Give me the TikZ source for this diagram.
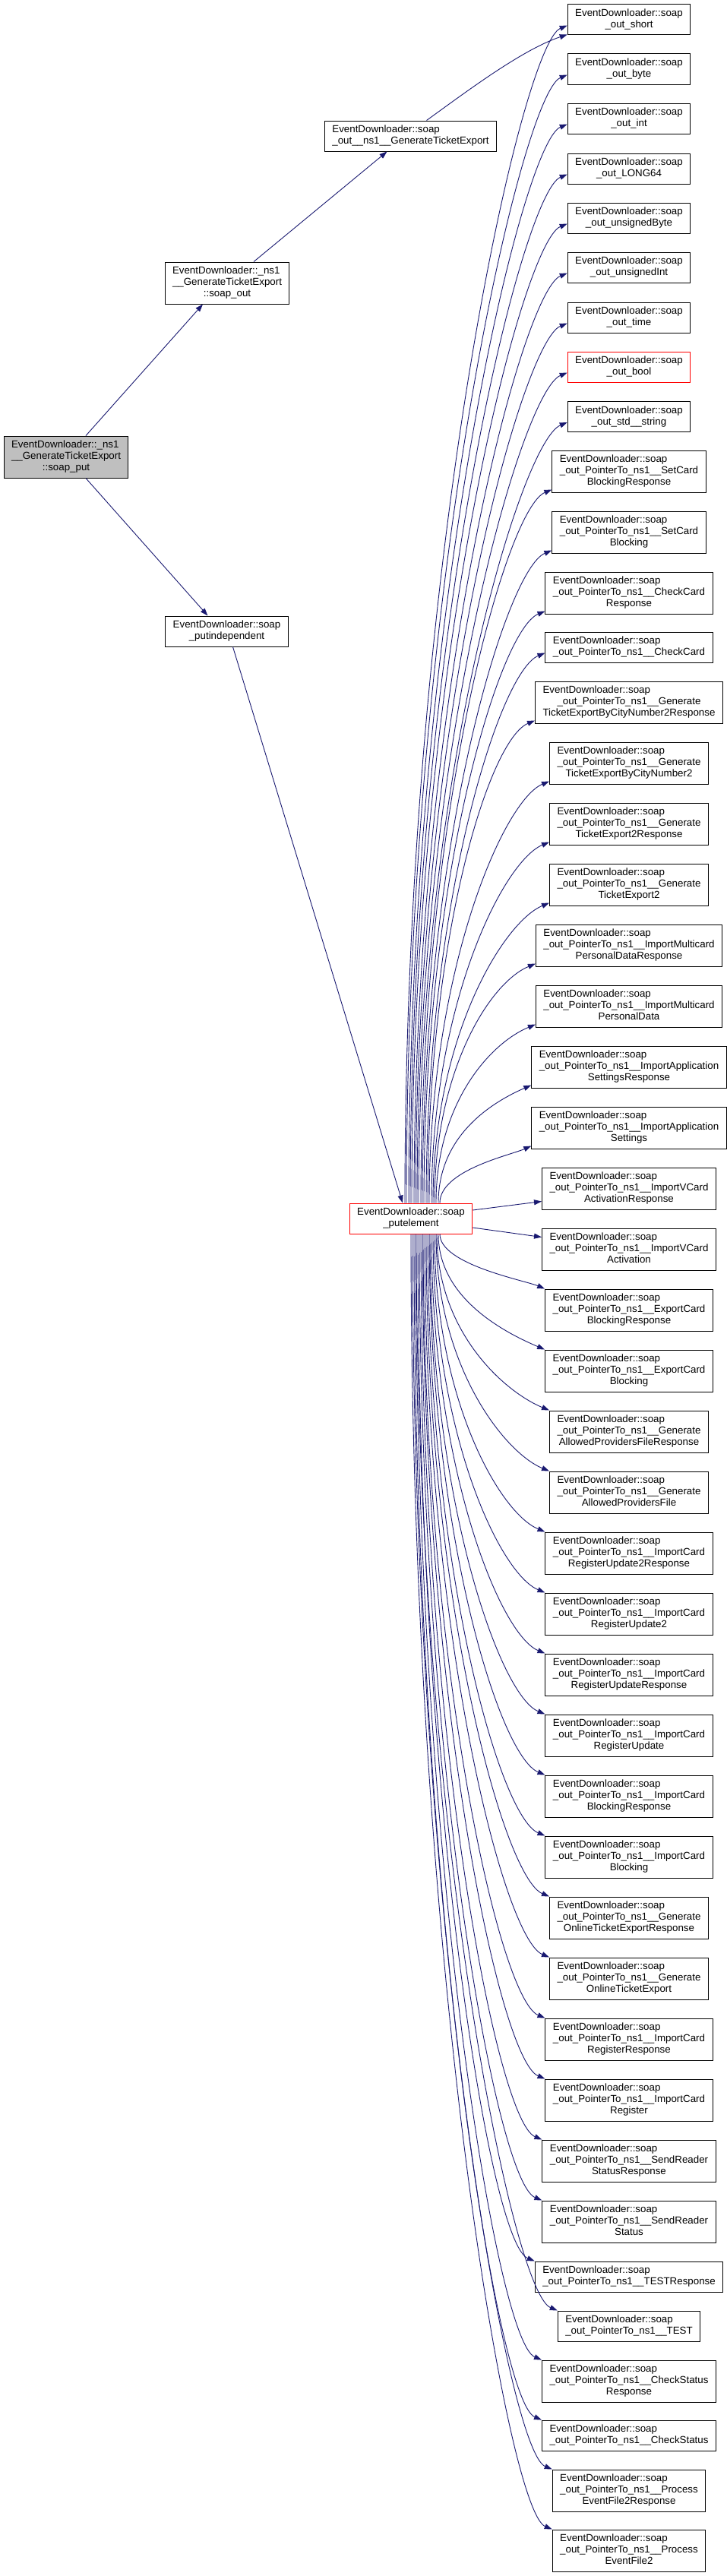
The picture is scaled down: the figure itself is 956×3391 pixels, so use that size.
\documentclass[tikz,border=0pt]{standalone}
\usepackage{fontspec}
\setmainfont{Liberation Sans}
\usetikzlibrary{arrows.meta}
\tikzset{
every picture/.style={
line width=1pt
}}
\definecolor{edgeblue}{HTML}{191970}
\definecolor{rootgray}{HTML}{BFBFBF}
% first line flush left, the rest centred
\newcommand{\fnlabel}[2]{\begin{tabular}{@{}c@{}}\multicolumn{1}{@{}l@{}}{#1}\\#2\end{tabular}}
\newcommand{\soapfn}[1]{\fnlabel{EventDownloader::soap}{#1}}

\begin{document}
\begin{tikzpicture}[x=1pt, y=1pt, >={Triangle[length=10pt,width=7pt]},
block/.style = {rectangle, draw=black, fill=white, inner xsep=10pt, inner ysep=5pt, font=\fontsize{13.33}{15}\selectfont},
redblock/.style = {block, draw=red},
rootblock/.style = {block, fill=rootgray},
call/.style = {->, draw=edgeblue, line width=0.9pt}]

\useasboundingbox (0,0) rectangle (956,-3391);

% callers
\node[rootblock] (put) at (87,-601.5) {\fnlabel{EventDownloader::\_ns1}{\_\_GenerateTicketExport\\::soap\_put}};
\node[block] (gteout) at (299,-372.5) {\fnlabel{EventDownloader::\_ns1}{\_\_GenerateTicketExport\\::soap\_out}};
\node[block] (putind) at (298.5,-831) {\soapfn{\_putindependent}};
\node[block] (outgte) at (540.5,-179) {\soapfn{\_out\_\_ns1\_\_GenerateTicketExport}};
\node[redblock] (pe) at (541,-1604) {\soapfn{\_putelement}};

% right column
\node[block] (short) at (828,-26) {\soapfn{\_out\_short}};
\node[block] (byte) at (828,-91) {\soapfn{\_out\_byte}};
\node[block] (int) at (828,-156) {\soapfn{\_out\_int}};
\node[block] (long64) at (828,-222) {\soapfn{\_out\_LONG64}};
\node[block] (ubyte) at (828,-287) {\soapfn{\_out\_unsignedByte}};
\node[block] (uint) at (828,-352) {\soapfn{\_out\_unsignedInt}};
\node[block] (time) at (828,-418) {\soapfn{\_out\_time}};
\node[redblock] (bool) at (828,-483) {\soapfn{\_out\_bool}};
\node[block] (string) at (828,-548.5) {\soapfn{\_out\_std\_\_string}};
\node[block] (scbresp) at (828,-620.5) {\soapfn{\_out\_PointerTo\_ns1\_\_SetCard\\BlockingResponse}};
\node[block] (scb) at (828,-700.5) {\soapfn{\_out\_PointerTo\_ns1\_\_SetCard\\Blocking}};
\node[block] (ccresp) at (828,-780.5) {\soapfn{\_out\_PointerTo\_ns1\_\_CheckCard\\Response}};
\node[block] (cc) at (828,-852) {\soapfn{\_out\_PointerTo\_ns1\_\_CheckCard}};
\node[block] (gtecnresp) at (828,-924.5) {\soapfn{\_out\_PointerTo\_ns1\_\_Generate\\TicketExportByCityNumber2Response}};
\node[block] (gtecn) at (828,-1004.5) {\soapfn{\_out\_PointerTo\_ns1\_\_Generate\\TicketExportByCityNumber2}};
\node[block] (gte2resp) at (828,-1084.5) {\soapfn{\_out\_PointerTo\_ns1\_\_Generate\\TicketExport2Response}};
\node[block] (gte2) at (828,-1164.5) {\soapfn{\_out\_PointerTo\_ns1\_\_Generate\\TicketExport2}};
\node[block] (impdresp) at (828,-1244.5) {\soapfn{\_out\_PointerTo\_ns1\_\_ImportMulticard\\PersonalDataResponse}};
\node[block] (impd) at (828,-1324.5) {\soapfn{\_out\_PointerTo\_ns1\_\_ImportMulticard\\PersonalData}};
\node[block] (iasresp) at (828,-1404.5) {\soapfn{\_out\_PointerTo\_ns1\_\_ImportApplication\\SettingsResponse}};
\node[block] (ias) at (828,-1484.5) {\soapfn{\_out\_PointerTo\_ns1\_\_ImportApplication\\Settings}};
\node[block] (ivcaresp) at (828,-1564.5) {\soapfn{\_out\_PointerTo\_ns1\_\_ImportVCard\\ActivationResponse}};
\node[block] (ivca) at (828,-1644.5) {\soapfn{\_out\_PointerTo\_ns1\_\_ImportVCard\\Activation}};
\node[block] (ecbresp) at (828,-1724.5) {\soapfn{\_out\_PointerTo\_ns1\_\_ExportCard\\BlockingResponse}};
\node[block] (ecb) at (828,-1804.5) {\soapfn{\_out\_PointerTo\_ns1\_\_ExportCard\\Blocking}};
\node[block] (gapfresp) at (828,-1884.5) {\soapfn{\_out\_PointerTo\_ns1\_\_Generate\\AllowedProvidersFileResponse}};
\node[block] (gapf) at (828,-1964.5) {\soapfn{\_out\_PointerTo\_ns1\_\_Generate\\AllowedProvidersFile}};
\node[block] (icru2resp) at (828,-2044.5) {\soapfn{\_out\_PointerTo\_ns1\_\_ImportCard\\RegisterUpdate2Response}};
\node[block] (icru2) at (828,-2124.5) {\soapfn{\_out\_PointerTo\_ns1\_\_ImportCard\\RegisterUpdate2}};
\node[block] (icruresp) at (828,-2204.5) {\soapfn{\_out\_PointerTo\_ns1\_\_ImportCard\\RegisterUpdateResponse}};
\node[block] (icru) at (828,-2284.5) {\soapfn{\_out\_PointerTo\_ns1\_\_ImportCard\\RegisterUpdate}};
\node[block] (icbresp) at (828,-2364.5) {\soapfn{\_out\_PointerTo\_ns1\_\_ImportCard\\BlockingResponse}};
\node[block] (icb) at (828,-2444.5) {\soapfn{\_out\_PointerTo\_ns1\_\_ImportCard\\Blocking}};
\node[block] (goteresp) at (828,-2524.5) {\soapfn{\_out\_PointerTo\_ns1\_\_Generate\\OnlineTicketExportResponse}};
\node[block] (gote) at (828,-2604.5) {\soapfn{\_out\_PointerTo\_ns1\_\_Generate\\OnlineTicketExport}};
\node[block] (icrresp) at (828,-2684.5) {\soapfn{\_out\_PointerTo\_ns1\_\_ImportCard\\RegisterResponse}};
\node[block] (icr) at (828,-2764.5) {\soapfn{\_out\_PointerTo\_ns1\_\_ImportCard\\Register}};
\node[block] (srsresp) at (828,-2844.5) {\soapfn{\_out\_PointerTo\_ns1\_\_SendReader\\StatusResponse}};
\node[block] (srs) at (828,-2924.5) {\soapfn{\_out\_PointerTo\_ns1\_\_SendReader\\Status}};
\node[block] (testresp) at (828,-2997) {\soapfn{\_out\_PointerTo\_ns1\_\_TESTResponse}};
\node[block] (test) at (828,-3062) {\soapfn{\_out\_PointerTo\_ns1\_\_TEST}};
\node[block] (csresp) at (828,-3134.5) {\soapfn{\_out\_PointerTo\_ns1\_\_CheckStatus\\Response}};
\node[block] (cs) at (828,-3206) {\soapfn{\_out\_PointerTo\_ns1\_\_CheckStatus}};
\node[block] (pefresp) at (828,-3278.5) {\soapfn{\_out\_PointerTo\_ns1\_\_Process\\EventFile2Response}};
\node[block] (pef) at (828,-3357.5) {\soapfn{\_out\_PointerTo\_ns1\_\_Process\\EventFile2}};

% calls on the left
\draw[call] ([xshift=26pt]put.north) -- ([xshift=-32pt]gteout.south);
\draw[call] ([xshift=26pt]put.south) -- ([xshift=-25pt]putind.north);
\draw[call] ([xshift=35pt]gteout.north) -- ([xshift=-31pt]outgte.south);
\draw[call] ([xshift=21pt]outgte.north) .. controls +(50,36) and +(-60,-20) .. ([yshift=1pt]short.south west);
\draw[call] ([xshift=8pt]putind.south) -- ([xshift=-11pt]pe.north);

% putelement upwards
\foreach \tgt/\sx/\ca/\cx/\cy/\ey in {short/-8/849/60/25/13, byte/-6/813/60/25/13, int/-3/778/60/25/13,
  long64/-1/741/60/25/13, ubyte/1/706/60/25/13, uint/4/670/60/25/13, time/6/634/60/25/13,
  bool/8/598/60/25/13, string/10/562/60/25/13, scbresp/13/518/60/25/4, scb/15/474/60/25/4,
  ccresp/17/430/60/25/4, cc/20/395/60/25/13, gtecnresp/22/351/60/25/4, gtecn/24/307/60/25/4,
  gte2resp/27/263/60/25/4, gte2/29/219/60/25/4, impdresp/31/175/60/25/4, impd/33/131/60/25/4,
  iasresp/36/87/55/24/4, ias/38/43/27/12/4}
  \draw[call] ([xshift=\sx pt]pe.north) .. controls +(0,\ca) and +(-\cx,-\cy) .. ([yshift=\ey pt]\tgt.south west);

% putelement sideways
\draw[call] ([yshift=11pt]pe.east) -- ([yshift=-17pt]ivcaresp.west);
\draw[call] ([yshift=-12pt]pe.east) -- ([yshift=16pt]ivca.west);

% putelement downwards
\foreach \tgt/\sx/\ca/\cx/\cy in {ecbresp/38/40/26/11, ecb/36/84/54/23, gapfresp/34/128/60/25,
  gapf/33/172/60/25, icru2resp/31/216/60/25, icru2/29/260/60/25, icruresp/27/304/60/25,
  icru/25/348/60/25, icbresp/24/392/60/25, icb/22/436/60/25, goteresp/20/480/60/25,
  gote/18/524/60/25, icrresp/16/568/60/25, icr/15/612/60/25, srsresp/13/656/60/25,
  srs/11/700/60/25, testresp/9/744/60/25, test/7/780/60/25, csresp/6/816/60/25,
  cs/4/859/60/25, pefresp/2/895/60/25, pef/0/938/60/25}
  \draw[call] ([xshift=\sx pt]pe.south) .. controls +(0,-\ca) and +(-\cx,\cy) .. (\tgt.north west);

\end{tikzpicture}
\end{document}
